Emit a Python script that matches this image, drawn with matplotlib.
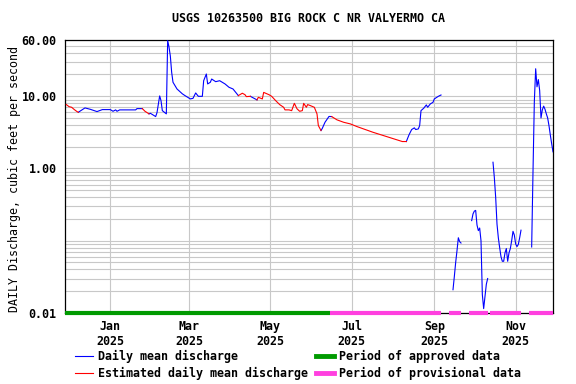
import matplotlib
matplotlib.use('Agg')
import matplotlib.pyplot as plt
import matplotlib.dates as mdates
import matplotlib.ticker as mticker
from matplotlib.lines import Line2D
import numpy as np
import pandas as pd

TITLE = "USGS 10263500 BIG ROCK C NR VALYERMO CA"
YLABEL = "DAILY Discharge, cubic feet per second"

# daily mean discharge (cfs), one list pair per unbroken stretch
blue_segments = [
    (["2024-12-08", "2024-12-13", "2024-12-17", "2024-12-22", "2024-12-26", "2025-01-01",
      "2025-01-03", "2025-01-05", "2025-01-06", "2025-01-08", "2025-01-20", "2025-01-21",
      "2025-01-25"],
     [6.0, 6.89, 6.59, 6.13, 6.53, 6.53, 6.19, 6.47, 6.19, 6.47, 6.47, 6.74, 6.74]),
    (["2025-01-30", "2025-01-31", "2025-02-04", "2025-02-05", "2025-02-07", "2025-02-08",
      "2025-02-09", "2025-02-12", "2025-02-13", "2025-02-14", "2025-02-15", "2025-02-16",
      "2025-02-17", "2025-02-20", "2025-02-24", "2025-02-26", "2025-03-02", "2025-03-04",
      "2025-03-06", "2025-03-08", "2025-03-11", "2025-03-12", "2025-03-14", "2025-03-15",
      "2025-03-17", "2025-03-18", "2025-03-21", "2025-03-24", "2025-03-28", "2025-03-31",
      "2025-04-03", "2025-04-07"],
     [5.70, 5.81, 5.23, 5.93, 10.1, 8.69, 6.32, 5.70, 59.0, 48.0, 36.0, 21.4, 15.6, 12.6,
      10.8, 10.2, 9.18, 9.35, 11.1, 9.97, 9.97, 16.4, 20.3, 14.8, 15.6, 17.3, 15.9, 16.4,
      14.8, 13.3, 12.6, 10.2]),
    (["2025-04-16", "2025-04-21"], [9.97, 8.9]),
    (["2025-06-08", "2025-06-09", "2025-06-11", "2025-06-14", "2025-06-16"],
     [3.35, 3.60, 4.36, 5.25, 5.23]),
    (["2025-08-11", "2025-08-13", "2025-08-15", "2025-08-17", "2025-08-18", "2025-08-20",
      "2025-08-21", "2025-08-22", "2025-08-24", "2025-08-26", "2025-08-27", "2025-08-29",
      "2025-08-31", "2025-09-01", "2025-09-04", "2025-09-06"],
     [2.36, 2.92, 3.46, 3.65, 3.46, 3.53, 3.93, 6.32, 6.81, 7.58, 7.03, 7.83, 8.24, 9.18,
      9.97, 10.4]),
    (["2025-09-15", "2025-09-16", "2025-09-17", "2025-09-18", "2025-09-19", "2025-09-20",
      "2025-09-21"],
     [0.021, 0.032, 0.05, 0.073, 0.11, 0.097, 0.093]),
    (["2025-09-29", "2025-09-30", "2025-10-01", "2025-10-02", "2025-10-03", "2025-10-04",
      "2025-10-05", "2025-10-06", "2025-10-07", "2025-10-08", "2025-10-09", "2025-10-10",
      "2025-10-11"],
     [0.19, 0.235, 0.257, 0.263, 0.165, 0.138, 0.15, 0.1, 0.018, 0.0115, 0.017, 0.025,
      0.03]),
    (["2025-10-15", "2025-10-16", "2025-10-17", "2025-10-18", "2025-10-19", "2025-10-20",
      "2025-10-21", "2025-10-22", "2025-10-23", "2025-10-24", "2025-10-25", "2025-10-26",
      "2025-10-27", "2025-10-28", "2025-10-29", "2025-10-30", "2025-10-31", "2025-11-01",
      "2025-11-02", "2025-11-03", "2025-11-04", "2025-11-05"],
     [1.22, 0.75, 0.4, 0.17, 0.11, 0.08, 0.06, 0.052, 0.052, 0.068, 0.078, 0.052, 0.068,
      0.078, 0.1, 0.135, 0.12, 0.09, 0.083, 0.089, 0.11, 0.14]),
    (["2025-11-13", "2025-11-14", "2025-11-15", "2025-11-16", "2025-11-17", "2025-11-18",
      "2025-11-19", "2025-11-20", "2025-11-21", "2025-11-22", "2025-11-23", "2025-11-24",
      "2025-11-25", "2025-11-26", "2025-11-27", "2025-11-28", "2025-11-29"],
     [0.082, 0.9, 8.4, 24.0, 13.5, 17.0, 12.0, 5.0, 6.5, 7.3, 6.6, 5.7, 5.0, 3.9, 2.9,
      2.2, 1.7]),
]

# estimated daily mean discharge (cfs)
red_segments = [
    (["2024-11-29", "2024-12-01", "2024-12-03", "2024-12-05", "2024-12-07", "2024-12-08"],
     [7.66, 7.18, 7.03, 6.53, 6.13, 6.0]),
    (["2025-01-25", "2025-01-27", "2025-01-30"], [6.74, 6.19, 5.70]),
    (["2025-04-07", "2025-04-10", "2025-04-12", "2025-04-13", "2025-04-16"],
     [10.2, 11.0, 10.5, 9.87, 9.97]),
    (["2025-04-21", "2025-04-22", "2025-04-25", "2025-04-26", "2025-04-30", "2025-05-02",
      "2025-05-05", "2025-05-08", "2025-05-11", "2025-05-12", "2025-05-15", "2025-05-17",
      "2025-05-19", "2025-05-21", "2025-05-23", "2025-05-25", "2025-05-26", "2025-05-28",
      "2025-05-29", "2025-05-31", "2025-06-03", "2025-06-05", "2025-06-06", "2025-06-08"],
     [8.9, 9.66, 9.18, 11.3, 10.5, 9.97, 8.69, 7.66, 7.03, 6.47, 6.47, 6.32, 7.98, 6.7,
      6.19, 6.32, 7.98, 7.03, 7.66, 7.42, 7.03, 5.70, 3.93, 3.35]),
    (["2025-06-16", "2025-06-20", "2025-06-25", "2025-06-30", "2025-07-05", "2025-07-17",
      "2025-08-08", "2025-08-11"],
     [5.23, 4.71, 4.36, 4.14, 3.80, 3.17, 2.36, 2.36]),
]

# data-status periods shown along the bottom
approved_periods = [("2024-11-28", "2025-06-15")]
provisional_periods = [("2025-06-15", "2025-09-06"), ("2025-09-12", "2025-09-21"),
                       ("2025-09-27", "2025-10-11"), ("2025-10-13", "2025-11-05"),
                       ("2025-11-11", "2025-11-29")]

x_start = "2024-11-28"
x_end = "2025-11-29"
y_ticks = [0.01, 1, 10, 60]

BLUE = "#0000ff"
RED = "#ff0000"
GREEN = "#009a00"
MAGENTA = "#ff3fdf"

plt.rcParams['font.family'] = 'DejaVu Sans Mono'
plt.rcParams['font.weight'] = 'bold'
plt.rcParams['font.size'] = 8.4

W, H = 576, 384
fig = plt.figure(figsize=(W / 100, H / 100), dpi=100)
ax = fig.add_axes([65 / W, 1 - 313 / H, (553 - 65) / W, (313 - 40) / H])

for dates, vals in blue_segments:
    ax.plot(pd.to_datetime(dates), vals, color=BLUE, lw=0.8, zorder=3)
for dates, vals in red_segments:
    ax.plot(pd.to_datetime(dates), vals, color=RED, lw=0.8, zorder=3)

for s, e in approved_periods:
    ax.plot(pd.to_datetime([s, e]), [0.01, 0.01], color=GREEN, lw=3,
            solid_capstyle='butt', clip_on=False, zorder=5)
for s, e in provisional_periods:
    ax.plot(pd.to_datetime([s, e]), [0.01, 0.01], color=MAGENTA, lw=3,
            solid_capstyle='butt', clip_on=False, zorder=5)

ax.set_yscale('log')
ax.set_ylim(0.01, 60)
ax.set_xlim(pd.Timestamp(x_start), pd.Timestamp(x_end))

ax.yaxis.set_major_locator(mticker.FixedLocator(y_ticks))
ax.yaxis.set_major_formatter(mticker.FuncFormatter(lambda v, p: "%.2f" % v))
ax.yaxis.set_minor_locator(mticker.LogLocator(base=10, subs=np.arange(1, 10), numticks=20))
ax.yaxis.set_minor_formatter(mticker.NullFormatter())
ax.xaxis.set_major_locator(mdates.MonthLocator(bymonth=[1, 3, 5, 7, 9, 11]))
ax.xaxis.set_major_formatter(mdates.DateFormatter("%b\n%Y"))

ax.grid(which='both', axis='y', color='#c8c8c8', lw=0.8)
ax.grid(which='major', axis='x', color='#c8c8c8', lw=0.8)
ax.set_axisbelow(True)
ax.tick_params(which='both', length=0)
ax.tick_params(axis='y', pad=6)
ax.tick_params(axis='x', pad=5)
for sp in ax.spines.values():
    sp.set_linewidth(0.9)

ax.set_ylabel(YLABEL)
ax.yaxis.set_label_coords(-0.091, 0.49)
fig.text(309 / W, 1 - 19 / H, TITLE, ha='center', va='center')

handles = [Line2D([], [], color=BLUE, lw=0.8),
           Line2D([], [], color=RED, lw=0.8),
           Line2D([], [], color=GREEN, lw=3.5),
           Line2D([], [], color=MAGENTA, lw=3.5)]
labels = ["Daily mean discharge", "Estimated daily mean discharge",
          "Period of approved data", "Period of provisional data"]
fig.legend(handles, labels, ncol=2, loc='upper left', bbox_to_anchor=(75 / W, 1 - 350 / H),
           frameon=False, handlelength=1.55, handletextpad=0.45, columnspacing=0.65,
           labelspacing=0.3, borderpad=0, borderaxespad=0)

fig.savefig("out.png", dpi=100)
